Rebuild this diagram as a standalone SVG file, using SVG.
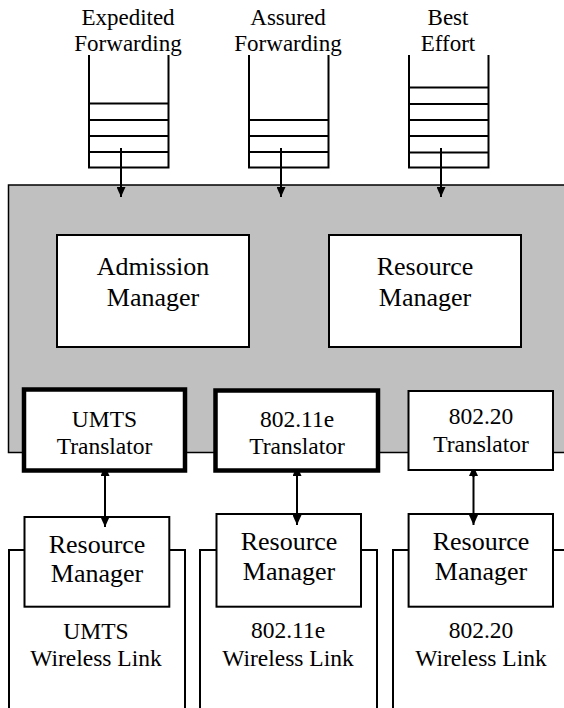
<svg xmlns="http://www.w3.org/2000/svg" width="564" height="708" viewBox="0 0 564 708" font-family="'Liberation Serif', 'Times New Roman', 'DejaVu Serif', serif">
<defs>
<marker id="ah" markerUnits="userSpaceOnUse" markerWidth="10" markerHeight="9" refX="10" refY="4.5" orient="auto-start-reverse" viewBox="0 0 10 9">
<path d="M0,0 L10,4.5 L0,9 z" fill="#000"/>
</marker>
</defs>
<style>
text{font-family:'Liberation Serif','Times New Roman','DejaVu Serif',serif;fill:#000;text-anchor:middle}
.lbl{font-size:23px}
.big{font-size:26px}
.tr{font-size:23.5px}
.q{fill:none;stroke:#000;stroke-width:2}
.box{fill:#fff;stroke:#000;stroke-width:2}
.thick{fill:#fff;stroke:#000;stroke-width:4.5}
.link{fill:none;stroke:#000;stroke-width:2}
.conn{stroke:#000;stroke-width:2;fill:none}
</style>
<rect id="core" x="8.5" y="185" width="570" height="267.5" fill="#c0c0c0" stroke="#000" stroke-width="1.5"/>

<g id="queue-ef">
<text class="lbl" x="128" y="25">Expedited</text>
<text class="lbl" x="128" y="51">Forwarding</text>
<path class="q" d="M89,55 V167.5 H168.5 V55 M89,103.5 H168.5 M89,120 H168.5 M89,136 H168.5 M89,152 H168.5"/>
</g>
<g id="queue-af">
<text class="lbl" x="288" y="25">Assured</text>
<text class="lbl" x="288" y="51">Forwarding</text>
<path class="q" d="M249,55 V167.5 H328.5 V55 M249,120 H328.5 M249,136 H328.5 M249,152 H328.5"/>
</g>
<g id="queue-be">
<text class="lbl" x="448" y="25">Best</text>
<text class="lbl" x="448" y="51">Effort</text>
<path class="q" d="M409,55 V167.5 H488.5 V55 M409,87.5 H488.5 M409,104 H488.5 M409,120 H488.5 M409,136 H488.5 M409,152.5 H488.5"/>
</g>

<g id="admission-manager">
<rect class="box" x="57" y="235" width="192" height="112"/>
<text class="big" x="153" y="275">Admission</text>
<text class="big" x="153" y="306">Manager</text>
</g>
<g id="resource-manager">
<rect class="box" x="329" y="235" width="192" height="112"/>
<text class="big" x="425" y="275">Resource</text>
<text class="big" x="425" y="306">Manager</text>
</g>

<g id="link-umts">
<path class="link" d="M9,708 V550 H24.5 M169.3,550 H185 V708"/>
<text class="tr" x="96" y="639">UMTS</text>
<text class="tr" x="96" y="666">Wireless Link</text>
</g>
<g id="link-80211e">
<path class="link" d="M200,708 V550 H216.5 M361,550 H377 V708"/>
<text class="tr" x="288" y="638">802.11e</text>
<text class="tr" x="288" y="666">Wireless Link</text>
</g>
<g id="link-80220">
<path class="link" d="M393,708 V550 H408.6 M553,550 H570"/>
<text class="tr" x="481" y="638">802.20</text>
<text class="tr" x="481" y="666">Wireless Link</text>
</g>

<g id="rm-umts">
<rect class="box" x="24.5" y="517" width="144.8" height="89.7"/>
<text class="big" x="97" y="553">Resource</text>
<text class="big" x="97" y="582">Manager</text>
</g>
<g id="rm-80211e">
<rect class="box" x="216.5" y="514" width="144.5" height="92.7"/>
<text class="big" x="289" y="550">Resource</text>
<text class="big" x="289" y="580">Manager</text>
</g>
<g id="rm-80220">
<rect class="box" x="408.6" y="514" width="144.4" height="92.7"/>
<text class="big" x="481" y="550">Resource</text>
<text class="big" x="481" y="580">Manager</text>
</g>

<g id="connectors">
<line class="conn" x1="121" y1="148" x2="121" y2="197" marker-end="url(#ah)"/>
<line class="conn" x1="281" y1="148" x2="281" y2="197" marker-end="url(#ah)"/>
<line class="conn" x1="441" y1="148" x2="441" y2="197" marker-end="url(#ah)"/>
<line class="conn" x1="105" y1="466" x2="105" y2="527" marker-start="url(#ah)" marker-end="url(#ah)"/>
<line class="conn" x1="297" y1="466" x2="297" y2="525" marker-start="url(#ah)" marker-end="url(#ah)"/>
<line class="conn" x1="473.5" y1="466" x2="473.5" y2="525" marker-start="url(#ah)" marker-end="url(#ah)"/>
</g>

<g id="tr-umts">
<rect class="thick" x="24" y="389.5" width="161" height="81"/>
<text class="tr" x="104.5" y="427">UMTS</text>
<text class="tr" x="104.5" y="454">Translator</text>
</g>
<g id="tr-80211e">
<rect class="thick" x="215.5" y="390.5" width="162.5" height="80"/>
<text class="tr" x="297" y="427">802.11e</text>
<text class="tr" x="297" y="454">Translator</text>
</g>
<g id="tr-80220">
<rect class="box" x="408.5" y="391" width="144.5" height="79"/>
<text class="tr" x="481" y="424">802.20</text>
<text class="tr" x="481" y="452">Translator</text>
</g>
<line class="conn" x1="473.5" y1="470" x2="473.5" y2="477"/>
</svg>
